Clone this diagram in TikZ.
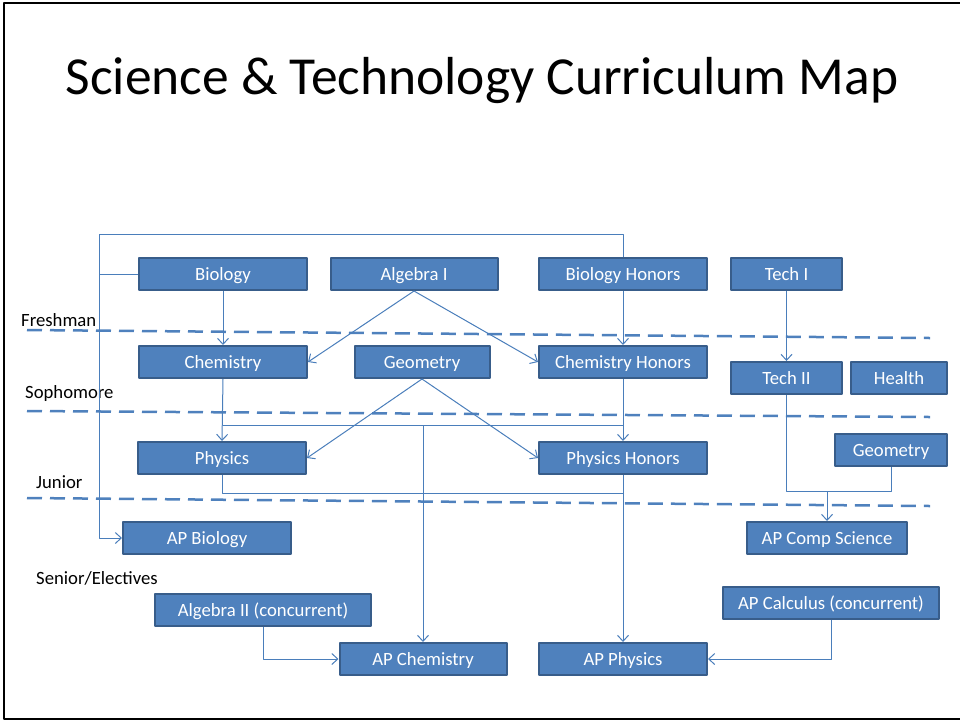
\documentclass[tikz,border=0pt]{standalone}
\usepackage{fontspec}
\setmainfont{Carlito}
\usetikzlibrary{arrows.meta}
\definecolor{boxblue}{RGB}{79,129,189}
\definecolor{boxedge}{RGB}{56,93,138}
\definecolor{linkblue}{RGB}{74,126,187}
\begin{document}
\begin{tikzpicture}[x=1pt, y=-1pt, line join=round,
  course/.style={draw=boxedge, line width=2pt, fill=boxblue, text=white, font=\fontsize{18.7}{22}\selectfont, minimum height=32, inner sep=0pt, text height=13pt, text depth=0pt},
  link/.style={draw=linkblue, line width=1pt},
  arr/.style={link, -{Straight Barb[length=6pt,width=11pt]}},
  level/.style={draw=boxblue, line width=2.5pt, dash pattern=on 15pt off 8pt},
  year/.style={anchor=west, inner sep=0pt, font=\fontsize{18.7}{22}\selectfont}]
\useasboundingbox (0,0) rectangle (960,721);
\draw[line width=2pt] (962,3) -- (4,3) -- (4,719) -- (962,719);
\node (title) at (482,81) {\fontsize{53.5}{64}\selectfont Science \& Technology Curriculum Map};
\foreach \ya/\yb in {330/338, 411/417, 498/506} \draw[level] (27,\ya) -- (930,\yb);
\node[year] (fresh) at (21,320) {Freshman};
\node[year] (soph) at (25,394) {Sophomore};
\node[year] (jun) at (36,482) {Junior};
\node[year] (sen) at (36,578) {Senior/Electives};
\node[course, minimum width=168] (bio) at (223,274) {Biology};
\node[course, minimum width=167] (alg) at (414,274) {Algebra I};
\node[course, minimum width=168] (biohon) at (623,274) {Biology Honors};
\node[course, minimum width=111] (tech) at (786.5,274) {Tech I};
\node[course, minimum width=168] (chem) at (223,362) {Chemistry};
\node[course, minimum width=135] (geo) at (422,362) {Geometry};
\node[course, minimum width=168] (chemhon) at (623,362) {Chemistry Honors};
\node[course, minimum width=111] (techii) at (786.5,378) {Tech II};
\node[course, minimum width=96] (health) at (899,378) {Health};
\node[course, minimum width=168] (phys) at (222,458) {Physics};
\node[course, minimum width=168] (physhon) at (623,458) {Physics Honors};
\node[course, minimum width=112] (geob) at (891,450) {Geometry};
\node[course, minimum width=168] (apbio) at (207,538) {AP Biology};
\node[course, minimum width=160] (apcs) at (827,538) {AP Comp Science};
\node[course, minimum width=216] (alg2) at (263,610) {Algebra II (concurrent)};
\node[course, minimum width=216] (apcalc) at (831,603) {AP Calculus (concurrent)};
\node[course, minimum width=167] (apchem) at (423,659) {AP Chemistry};
\node[course, minimum width=168] (apphys) at (623,659) {AP Physics};
\coordinate (bus) at (99,234);
\coordinate (split) at (423,425);
\coordinate (merge) at (623,493);
\coordinate (join) at (827,491);
\draw[link] (bio.west) -- (bio.west -| bus);
\draw[arr] (biohon.north) |- (bus) |- (apbio.west);
\draw[arr] (bio.south) -- (chem.north);
\draw[arr] (alg.south) -- (chem.east);
\draw[arr] (alg.south) -- (chemhon.west);
\draw[arr] (biohon.south) -- (chemhon.north);
\draw[arr] (tech.south) -- (techii.north);
\draw[arr] (chem.south) -- (phys.north);
\draw[arr] (chemhon.south) -- (physhon.north);
\draw[link] (chem.south |- split) -- (chemhon.south |- split);
\draw[arr] (split) -- (apchem.north);
\draw[arr] (geo.south) -- (phys.east);
\draw[arr] (geo.south) -- (physhon.west);
\draw[arr] (physhon.south) -- (apphys.north);
\draw[link] (phys.south) |- (merge);
\draw[link] (techii.south) |- (join);
\draw[link] (geob.south) |- (join);
\draw[arr] (join) -- (apcs.north);
\draw[arr] (alg2.south) |- (apchem.west);
\draw[arr] (apcalc.south) |- (apphys.east);
\end{tikzpicture}
\end{document}
